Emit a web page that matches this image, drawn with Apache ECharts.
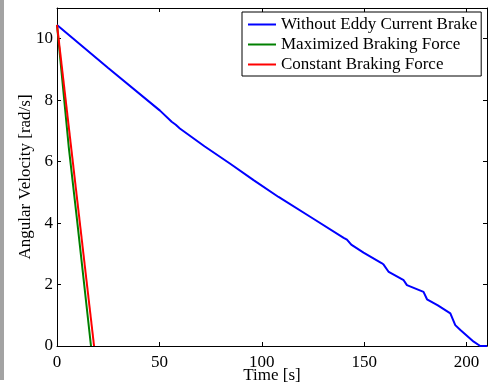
<!DOCTYPE html>
<html>
<head>
<meta charset="utf-8">
<script src="https://cdn.jsdelivr.net/npm/echarts@6/dist/echarts.min.js"></script>
<style>
html,body{margin:0;padding:0;background:#fff;}
#c{width:494px;height:386px;}
</style>
</head>
<body>
<div id="c"></div>
<script>
// Data: [time (s), angular velocity (rad/s)]
const seriesNames = ['Without Eddy Current Brake', 'Maximized Braking Force', 'Constant Braking Force'];
const withoutBrake = [
  [0, 10.45], [25, 9.05], [50.3, 7.66], [56, 7.3], [58, 7.2], [60, 7.08], [72, 6.5], [84.6, 5.93],
  [96, 5.4], [108.2, 4.85], [125, 4.15], [140, 3.52], [141.6, 3.46], [143.7, 3.30], [149.7, 3.04],
  [158.5, 2.7], [159.5, 2.65], [162, 2.41], [169.3, 2.14], [170.9, 1.98], [179, 1.76],
  [180.7, 1.52], [186, 1.32], [192.1, 1.06], [194.5, 0.68], [197, 0.52], [203.5, 0.14],
  [206.7, 0], [210, 0]
];
const maximizedForce = [[0, 10.45], [5.7, 6.5], [9.8, 4.1], [16.6, 0]];
const constantForce = [[0, 10.45], [18.1, 0]];
const xTicks = [0, 50, 100, 150, 200];
const yTicks = [0, 2, 4, 6, 8, 10];

const font = 'Liberation Serif';
const chart = echarts.init(document.getElementById('c'));
const baseAxisX = {
  type: 'value', min: 0, max: 210, interval: 50,
  axisLine: { show: true, onZero: false, lineStyle: { color: '#000', width: 1 } },
  axisTick: { show: true, inside: true, length: 4, lineStyle: { color: '#000' } },
  splitLine: { show: false }
};
const baseAxisY = {
  type: 'value', min: 0, max: 11, interval: 2,
  axisLine: { show: true, onZero: false, lineStyle: { color: '#000', width: 1 } },
  axisTick: { show: true, inside: true, length: 4, lineStyle: { color: '#000' } },
  splitLine: { show: false }
};
chart.setOption({
  animation: false,
  backgroundColor: '#fff',
  graphic: [{ type: 'rect', shape: { x: 0, y: 0, width: 4, height: 380 }, style: { fill: '#a3a3a3' } }],
  grid: { left: 57, right: 7, top: 8, bottom: 40, containLabel: false, outerBoundsMode: 'none' },
  legend: {
    data: seriesNames,
    orient: 'vertical',
    left: 242, top: 12,
    backgroundColor: '#fff',
    borderColor: '#000', borderWidth: 1,
    padding: [4, 4, 3, 5],
    itemWidth: 28, itemHeight: 14, itemGap: 3,
    itemStyle: { opacity: 0 },
    textStyle: { fontFamily: font, fontSize: 17, lineHeight: 17, color: '#000' }
  },
  xAxis: [
    Object.assign({}, baseAxisX, {
      position: 'bottom',
      name: 'Time [s]', nameLocation: 'middle', nameGap: 21, nameMoveOverlap: false,
      nameTextStyle: { fontFamily: font, fontSize: 17, color: '#000' },
      axisLabel: { show: true, margin: 8, fontFamily: font, fontSize: 17, color: '#000',
        formatter: v => xTicks.includes(v) ? String(v) : '' }
    }),
    Object.assign({}, baseAxisX, { position: 'top', axisLabel: { show: false } })
  ],
  yAxis: [
    Object.assign({}, baseAxisY, {
      position: 'left',
      name: 'Angular Velocity [rad/s]', nameLocation: 'middle', nameGap: 23, nameMoveOverlap: false,
      nameTextStyle: { fontFamily: font, fontSize: 17, color: '#000' },
      axisLabel: { show: true, margin: 4, fontFamily: font, fontSize: 17, color: '#000',
        formatter: v => yTicks.includes(v) ? String(v) : '' }
    }),
    Object.assign({}, baseAxisY, { position: 'right', axisLabel: { show: false } })
  ],
  series: [
    { name: seriesNames[0], type: 'line', data: withoutBrake, symbol: 'none', xAxisIndex: 0, yAxisIndex: 0,
      lineStyle: { color: '#0000ff', width: 2 }, itemStyle: { color: '#0000ff' } },
    { name: seriesNames[1], type: 'line', data: maximizedForce, symbol: 'none',
      lineStyle: { color: '#008000', width: 2 }, itemStyle: { color: '#008000' } },
    { name: seriesNames[2], type: 'line', data: constantForce, symbol: 'none',
      lineStyle: { color: '#ff0000', width: 2 }, itemStyle: { color: '#ff0000' } }
  ]
});
</script>
</body>
</html>
